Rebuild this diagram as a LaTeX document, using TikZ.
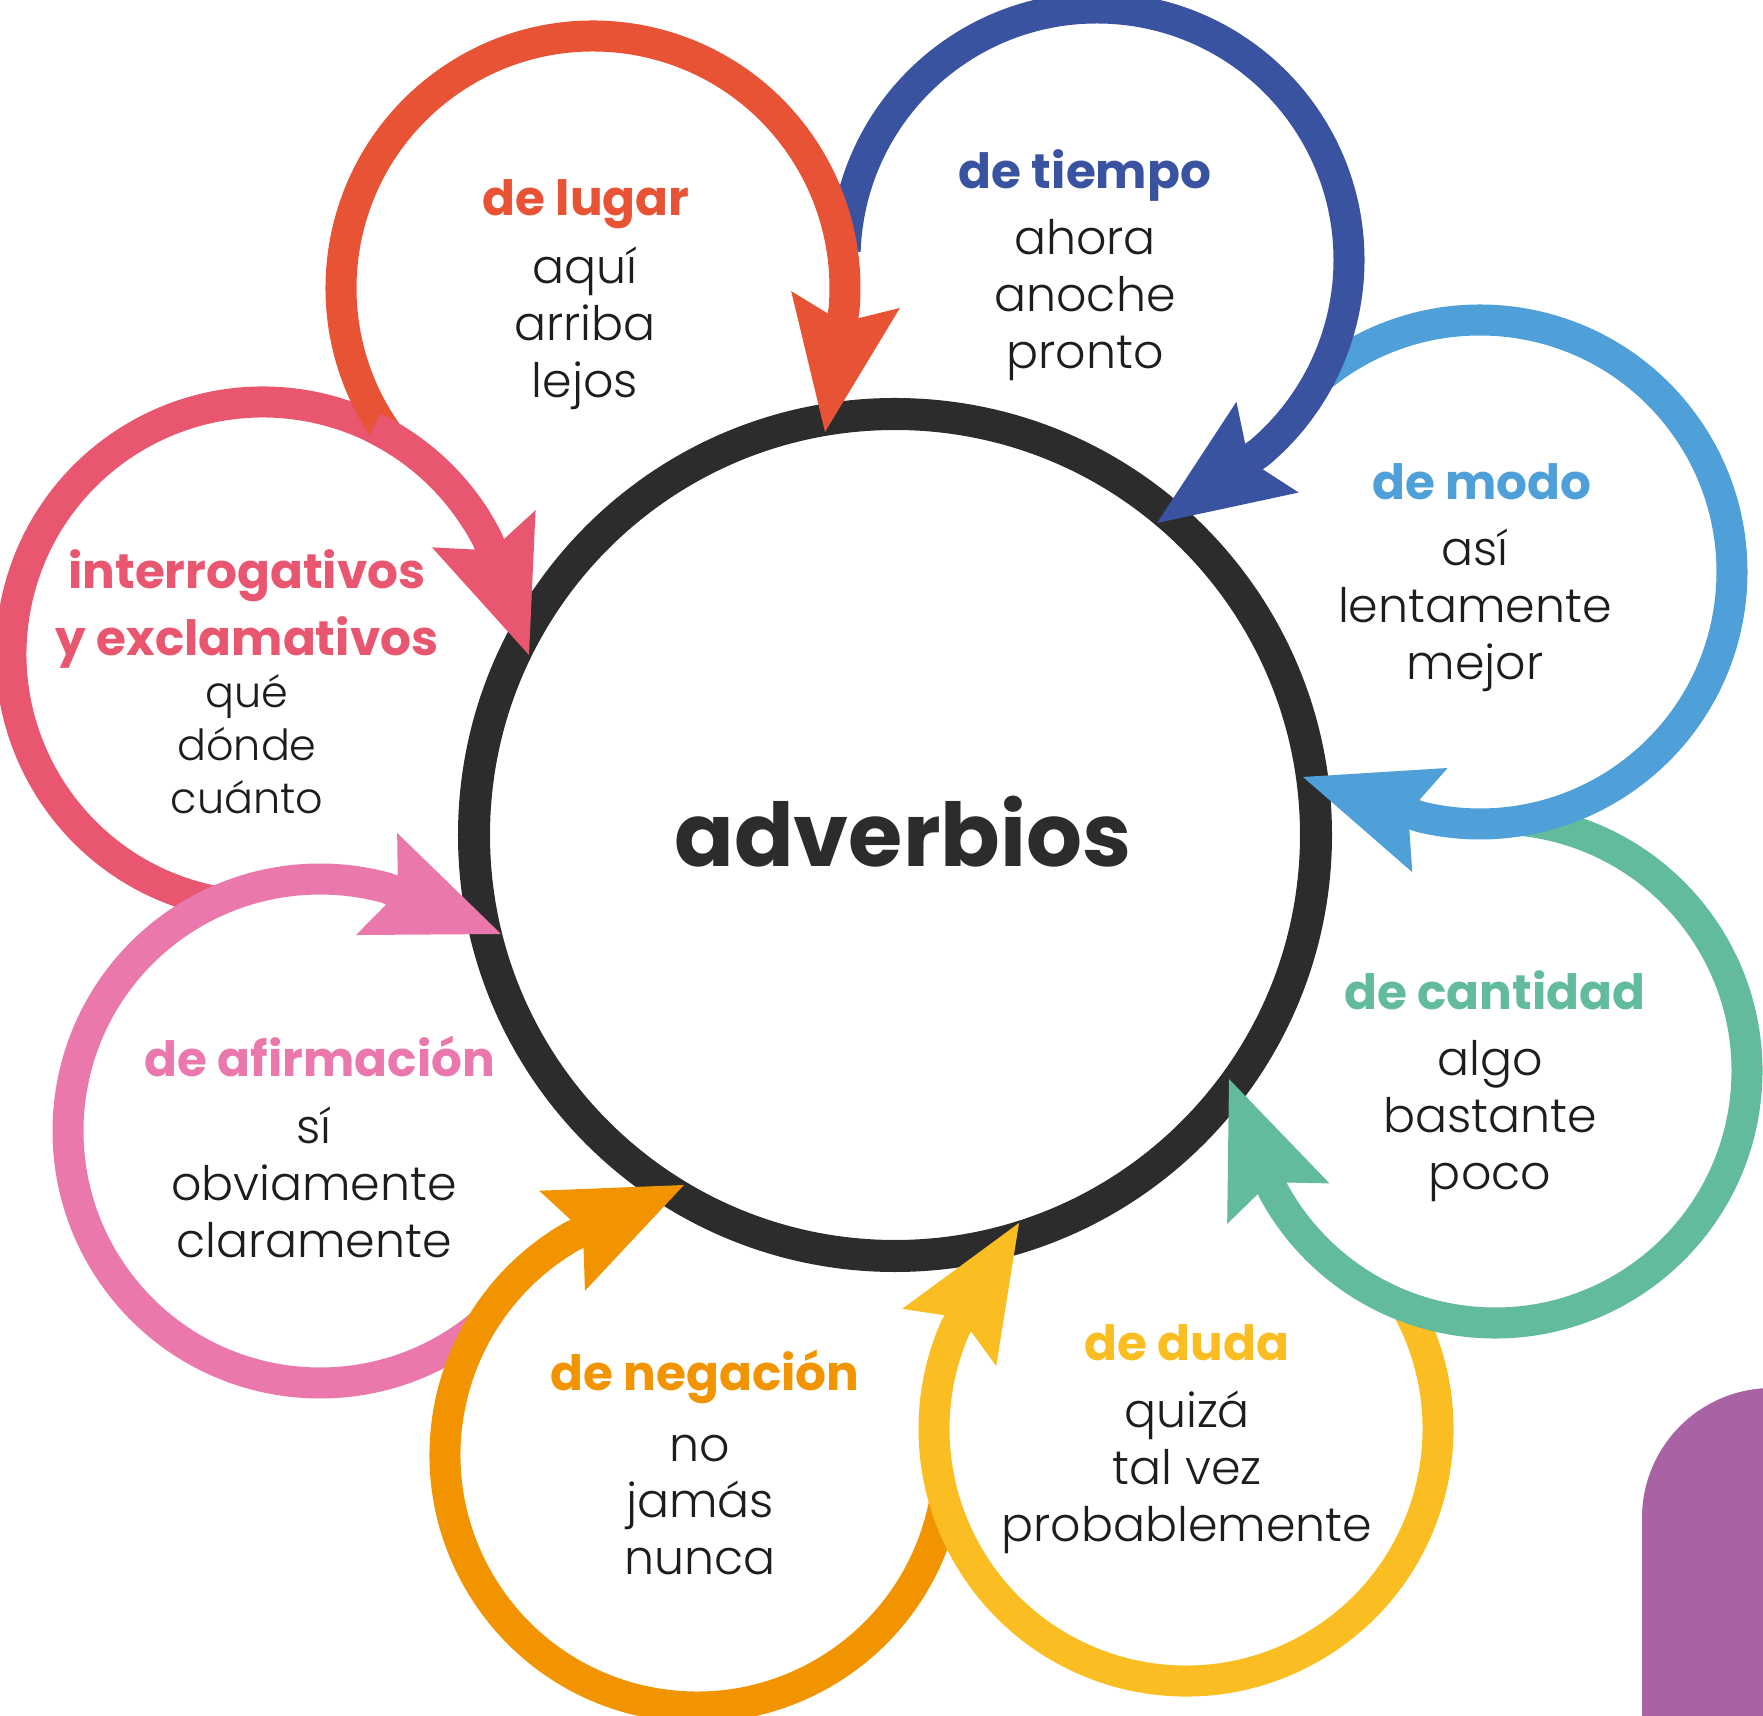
\documentclass[tikz,border=0pt]{standalone}
\usepackage{fontspec}
\setmainfont{Poppins}
\newfontfamily\bodyfont{Poppins Light}
\usetikzlibrary{arrows.meta,calc}

\definecolor{cLugar}{HTML}{E85235}
\definecolor{cTiempo}{HTML}{3A53A1}
\definecolor{cModo}{HTML}{4FA0D8}
\definecolor{cCant}{HTML}{62BB9C}
\definecolor{cDuda}{HTML}{FBBE22}
\definecolor{cNeg}{HTML}{F29400}
\definecolor{cAfirm}{HTML}{EA78AC}
\definecolor{cInter}{HTML}{E9566F}
\definecolor{ink}{HTML}{1D1D1B}
\definecolor{ringgray}{HTML}{2C2C2C}
\definecolor{lila}{HTML}{A963A5}

\newcommand{\rr}{252}

\begin{document}
\begin{tikzpicture}[x=0.01cm,y=0.01cm,
  ring/.style={line width=0.31cm,-{Stealth[length=1.34cm,width=1.1cm,inset=0.23cm,line width=0pt]}},
  head/.style={font=\bfseries\fontsize{13.8}{19}\selectfont,align=center,inner sep=0pt},
  body/.style={font=\bodyfont\fontsize{13.5}{16.2}\selectfont,text=ink,align=center,inner sep=0pt}]
\useasboundingbox (0,0) rectangle (1763,-1716);

% purple tab in the corner
\fill[lila] (1642,-1716) -- (1642,-1518) arc[start angle=180,end angle=90,radius=130] -- (1772,-1716) -- cycle;

% centres of the small circles
\coordinate (oL) at (593,-288);
\coordinate (oT) at (1097,-260);
\coordinate (oM) at (1480,-572);
\coordinate (oC) at (1495,-1071);
\coordinate (oD) at (1186,-1429);
\coordinate (oN) at (697,-1455);
\coordinate (oA) at (320,-1131);
\coordinate (oI) at (263,-654);
% arrow tips on the big circle
\coordinate (tL) at (825,-432);
\coordinate (tT) at (1157,-523);
\coordinate (tM) at (1303,-777);
\coordinate (tC) at (1229,-1079);
\coordinate (tD) at (1019,-1223);
\coordinate (tN) at (684,-1185);
\coordinate (tA) at (501,-934);
\coordinate (tI) at (529,-655);

% big circle
\draw[ringgray,line width=0.32cm] (895,-835) circle[radius=421];
\node[font=\bfseries\fontsize{25}{30}\selectfont,text=ringgray] (adv) at (903,-832) {adverbios};

% rings, each one goes under the next
\draw[ring,cInter] ($(oI)+(-100.8:\rr)$) arc[start angle=-100.8,end angle=-333.2,radius=\rr] -- (tI);
\draw[ring,cAfirm] ($(oA)+(-50.2:\rr)$) arc[start angle=-50.2,end angle=-285.3,radius=\rr] -- (tA);
\draw[ring,cNeg] ($(oN)+(-10.7:\rr)$) arc[start angle=-10.7,end angle=-240.2,radius=\rr] -- (tN);
\draw[ring,cDuda] ($(oD)+(29:\rr)$) arc[start angle=29,end angle=-203.8,radius=\rr] -- (tD);
\draw[ring,cCant] ($(oC)+(83.8:\rr)$) arc[start angle=83.8,end angle=-151.7,radius=\rr] -- (tC);
\draw[ring,cModo] ($(oM)+(129.3:\rr)$) arc[start angle=129.3,end angle=-103.7,radius=\rr] -- (tM);
\draw[ring,cTiempo] ($(oT)+(178:\rr)$) arc[start angle=178,end angle=-50,radius=\rr] -- (tT);
\draw[ring,cLugar] ($(oL)+(215.9:\rr)$) arc[start angle=215.9,end angle=-4.7,radius=\rr] -- (tL);
% pink passes over red
\draw[cInter,line width=0.31cm] ($(oI)+(64:\rr)$) arc[start angle=64,end angle=32,radius=\rr];

% texts
\node[head,text=cLugar] (hL) at (586,-204) {de lugar};
\node[body] (bL) at (585,-328) {aquí\\arriba\\lejos};
\node[head,text=cTiempo] (hT) at (1085,-176) {de tiempo};
\node[body] (bT) at (1085,-300) {ahora\\anoche\\pronto};
\node[head,text=cModo] (hM) at (1482,-482) {de modo};
\node[body] (bM) at (1475,-610) {así\\lentamente\\mejor};
\node[head,text=cCant] (hC) at (1495,-990) {de cantidad};
\node[body] (bC) at (1490,-1121) {algo\\bastante\\poco};
\node[head,text=cDuda] (hD) at (1187,-1343) {de duda};
\node[body] (bD) at (1187,-1472) {quizá\\tal vez\\probablemente};
\node[head,text=cNeg] (hN) at (705,-1377) {de negación};
\node[body] (bN) at (700,-1505) {no\\jamás\\nunca};
\node[head,text=cAfirm] (hA) at (320,-1056) {de afirmación};
\node[body] (bA) at (314,-1182) {sí\\obviamente\\claramente};
\node[head,text=cInter] (hI) at (247,-609) {interrogativos\\y exclamativos};
\node[body,font=\bodyfont\fontsize{12.2}{15}\selectfont] (bI) at (247,-744) {qué\\dónde\\cuánto};
\end{tikzpicture}
\end{document}
